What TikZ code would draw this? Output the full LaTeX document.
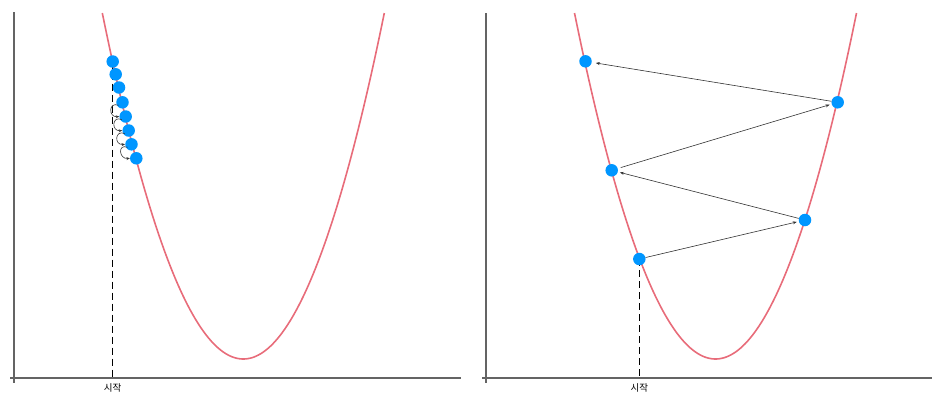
\documentclass[tikz,border=0pt]{standalone}
\usepackage{fontspec}
\newfontfamily\krfont{Noto Sans CJK KR}
\usetikzlibrary{arrows.meta}
\definecolor{curvecol}{RGB}{232,108,122}
\definecolor{dotcol}{RGB}{0,150,255}
\definecolor{axiscol}{RGB}{100,100,100}
\definecolor{arrcol}{RGB}{50,50,50}
\tikzset{
  dot/.style={circle,fill=dotcol,inner sep=0pt,minimum size=12.5pt},
  axisline/.style={draw=axiscol,line width=1.4pt},
  curve/.style={draw=curvecol,line width=1.6pt},
  stepline/.style={draw=arrcol,line width=0.6pt,-{Stealth[length=4pt,width=3pt]},shorten >=2pt},
  looparr/.style={draw=black!80,line width=0.6pt,-{Stealth[length=3.5pt,width=3pt]}},
  startline/.style={draw=black,line width=0.8pt,dash pattern=on 7pt off 4pt},
  lbl/.style={font=\krfont\fontsize{9.5}{11}\selectfont,inner sep=0pt}
}
\begin{document}
\begin{tikzpicture}[x=1pt,y=-1pt]
\useasboundingbox (0,0) rectangle (947,405);
% left panel axes
\draw[axisline] (14,12) -- (14,383);
\draw[axisline] (10,378) -- (461,378);
% right panel axes
\draw[axisline] (486,13) -- (486,383);
\draw[axisline] (482,378) -- (932,378);
% curves
\draw[curve] plot[domain=-141:141,samples=120] ({243.3+\x},{359-346*(\x/141)*(\x/141)});
\draw[curve] plot[domain=-141:141,samples=120] ({715.5+\x},{359-346*(\x/141)*(\x/141)});
% left panel
\coordinate (lb) at (112.5,378);
\draw[startline] (112.5,61.5) -- (lb);
\node[lbl,anchor=north] (ls) at (112.5,383.5) {시작};
\node[dot] (d1) at (112.7,61.5) {};
\node[dot] (d2) at (115.7,74.3) {};
\node[dot] (d3) at (119,87.5) {};
\node[dot] (d4) at (122.5,102.3) {};
\node[dot] (d5) at (125.7,116.5) {};
\node[dot] (d6) at (128.7,130.5) {};
\node[dot] (d7) at (131.5,144.3) {};
\node[dot] (d8) at (136.3,158.3) {};
\draw[looparr] (d4.center) ++(-4,3) .. controls +(-10,-4) and +(-11,1) .. (d5.west);
\draw[looparr] (d5.center) ++(-4,3) .. controls +(-10,-4) and +(-11,1) .. (d6.west);
\draw[looparr] (d6.center) ++(-4,3) .. controls +(-10,-4) and +(-11,1) .. (d7.west);
\draw[looparr] (d7.center) ++(-4,3) .. controls +(-10,-4) and +(-11,1) .. (d8.west);
% right panel
\coordinate (rb) at (639.3,378);
\draw[startline] (639.3,259) -- (rb);
\node[lbl,anchor=north] (rs) at (639.3,383.5) {시작};
\node[dot] (e1) at (639.3,259) {};
\node[dot] (e2) at (805,220) {};
\node[dot] (e3) at (611.7,170.3) {};
\node[dot] (e4) at (837.7,102.3) {};
\node[dot] (e5) at (585.5,61.3) {};
\draw[stepline] (e1) -- (e2);
\draw[stepline] (e2) -- (e3);
\draw[stepline,shorten <=3pt] (e3) -- (e4);
\draw[stepline,shorten >=4pt] (e4) -- (e5);
\end{tikzpicture}
\end{document}
